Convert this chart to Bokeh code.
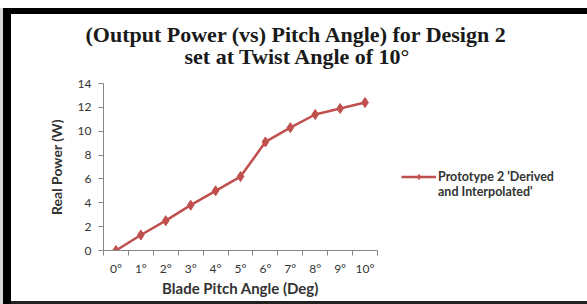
from bokeh.plotting import figure
from bokeh.models import Range1d, FixedTicker, Title, Legend, LegendItem
from bokeh.embed import file_html
from bokeh.resources import INLINE

# ---- data ----
categories = ["0°", "1°", "2°", "3°", "4°", "5°", "6°", "7°", "8°", "9°", "10°"]
power = [0.0, 1.3, 2.5, 3.8, 5.0, 6.2, 9.1, 10.3, 11.4, 11.9, 12.4]
y_ticks = [0, 2, 4, 6, 8, 10, 12, 14]
title_lines = ["(Output Power (vs) Pitch Angle) for Design 2", "set at Twist Angle of 10°"]
series_name = ["Prototype 2 'Derived", "and Interpolated'"]
x_title = "Blade Pitch Angle (Deg)"
y_title = "Real Power (W)"

RED = "#c0504d"
AX = "#868686"
SANS = "Lato"
TXT = "#333333"

W, H = 587, 304
FL, FR, FT, FB = 103, 377, 83, 250

x_idx = list(range(len(categories)))

p = figure(frame_width=FR - FL, frame_height=FB - FT, output_backend="svg", toolbar_location=None,
           x_range=Range1d(-0.5, len(categories) - 0.5), y_range=Range1d(y_ticks[0], y_ticks[-1]),
           min_border_left=FL, min_border_right=W - FR, min_border_top=FT, min_border_bottom=H - FB)
p.outline_line_color = None
p.xgrid.visible = False
p.ygrid.visible = False
p.background_fill_color = "white"
p.border_fill_alpha = 0
p.styles = {"background-color": "white",
            "box-shadow": ("inset 0 8px 0 0 #ffffff, inset 3px 0 0 0 #d9d9d9, "
                           "inset 0 14px 0 0 #000000, inset 11px 0 0 0 #000000, "
                           "inset -3px -3px 0 0 #222222")}

line_r = p.line(x_idx, power, line_color=RED, line_width=2.5)
pts_r = p.scatter(x_idx, power, marker="diamond", size=10, fill_color=RED, line_color=RED)
dummy = p.line([], [], line_alpha=0)

# x axis: labels at centres, tick marks at category boundaries
xa = p.xaxis[0]
xa.ticker = FixedTicker(ticks=x_idx, minor_ticks=[i - 0.5 for i in range(len(categories) + 1)])
xa.major_label_overrides = {i: c for i, c in enumerate(categories)}
xa.major_tick_out = 0
xa.major_tick_in = 0
xa.minor_tick_out = 5
xa.minor_tick_in = 0
xa.minor_tick_line_color = AX
xa.axis_line_color = AX
xa.major_label_text_font = SANS
xa.major_label_text_font_size = "12px"
xa.major_label_text_color = TXT
xa.major_label_standoff = 5
xa.axis_label = x_title
xa.axis_label_text_font = SANS
xa.axis_label_text_font_size = "15px"
xa.axis_label_text_font_style = "bold"
xa.axis_label_text_color = TXT
xa.axis_label_standoff = 0

ya = p.yaxis[0]
ya.ticker = FixedTicker(ticks=y_ticks)
ya.major_tick_out = 5
ya.major_tick_in = 0
ya.minor_tick_line_color = None
ya.major_tick_line_color = AX
ya.axis_line_color = AX
ya.major_label_text_font = SANS
ya.major_label_text_font_size = "12px"
ya.major_label_text_color = TXT
ya.major_label_standoff = 7
ya.axis_label = y_title
ya.axis_label_text_font = SANS
ya.axis_label_text_font_size = "14px"
ya.axis_label_text_font_style = "bold"
ya.axis_label_text_color = TXT
ya.axis_label_standoff = 10

# title (stacked outward from the plot area): spacer, line 2, line 1
p.add_layout(Title(text=" ", text_font_size="10px", standoff=2), "above")
for t, off, so in [(title_lines[1], 81, 0), (title_lines[0], -18, -10)]:
    p.add_layout(Title(text=t, align="left", offset=off, standoff=so,
                       text_font="Liberation Serif", text_font_style="bold",
                       text_font_size="22px", text_color="#1a1a1a"), "above")

legend = Legend(items=[LegendItem(label=series_name[0], renderers=[line_r, pts_r]),
                       LegendItem(label=series_name[1], renderers=[dummy])],
                location="top_left", glyph_width=35, glyph_height=13, label_height=13,
                spacing=-2, padding=0, margin=24, label_standoff=2,
                title=" ", title_text_font_size="20px", title_standoff=39,
                border_line_color=None, background_fill_alpha=0,
                label_text_font=SANS, label_text_font_size="12.5px",
                label_text_font_style="bold", label_text_color=TXT)
p.add_layout(legend, "right")

open("out.html", "w").write(file_html(p, INLINE))
